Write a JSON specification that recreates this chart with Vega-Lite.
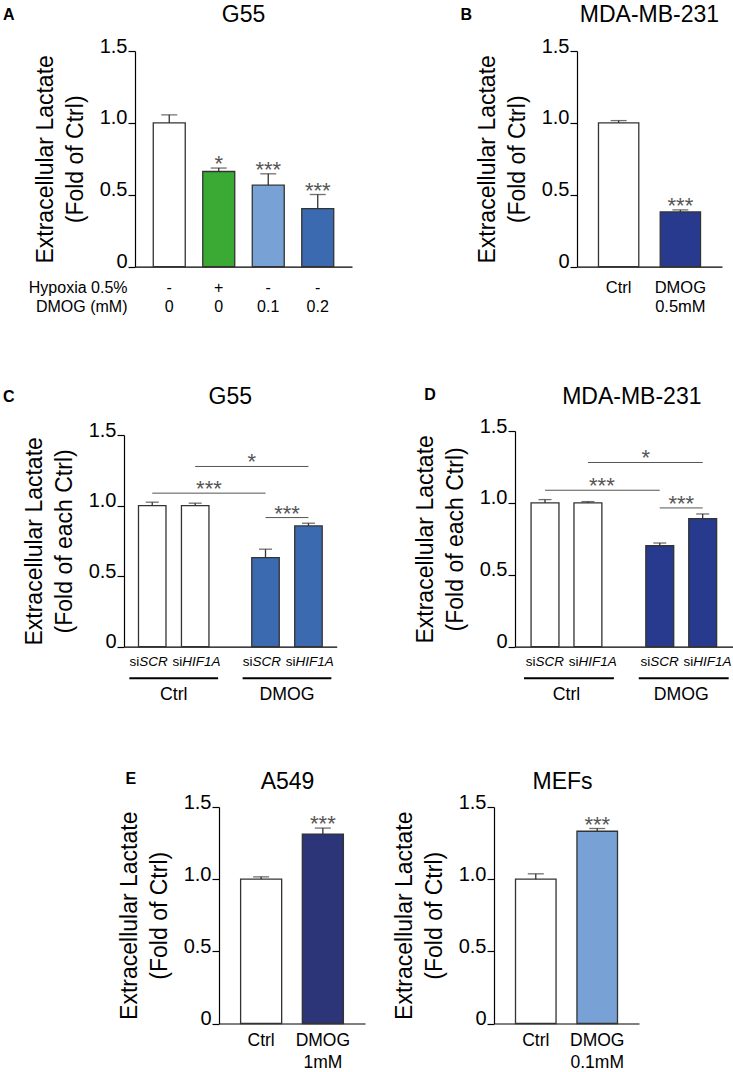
{
 "$schema": "https://vega.github.io/schema/vega-lite/v6.json",
 "padding": 0,
 "spacing": 0,
 "resolve": {"scale": {"x": "independent", "y": "independent", "color": "independent", "xOffset": "independent"}},
 "config": {
  "view": {"stroke": null},
  "font": "Liberation Sans",
  "concat": {"spacing": 0},
  "axis": {"grid": false, "domainColor": "#000000", "domainWidth": 1.2, "tickColor": "#000000", "tickWidth": 1.2, "labelColor": "#000000", "titleColor": "#000000", "titleFontWeight": "normal", "labelFont": "Liberation Sans", "titleFont": "Liberation Sans"},
  "axisY": {"tickSize": 7, "labelPadding": 1, "labelFontSize": 20, "labelOffset": -5, "titleFontSize": 23, "titleLineHeight": 29.5, "titlePadding": 12},
  "axisX": {"ticks": false, "tickSize": 0, "labelAngle": 0, "labelFontSize": 16, "labelLineHeight": 19, "labelPadding": 12.7},
  "title": {"fontSize": 23, "fontWeight": "normal", "color": "#000000", "font": "Liberation Sans"}
 },
 "vconcat": [
  {"width": 1, "height": 4, "data": {"values": []}, "mark": "point"},
  {
   "spacing": 0, "bounds": "flush",
   "resolve": {"scale": {"x": "independent", "y": "independent", "color": "independent", "xOffset": "independent"}},
   "hconcat": [
    {"width": 135, "height": 215.7, "data": {"values": []}, "mark": "point",
     "title": {"text": "A", "anchor": "start", "frame": "group", "fontSize": 16, "fontWeight": "bold", "offset": 27.6, "dx": 3}},
    {
     "width": 217, "height": 215.7,
     "title": {"text": "G55", "offset": 9},
     "data": {"values": [
      {"group": "-|0", "mean": 1.0, "upper": 1.056, "sig": ""},
      {"group": "+|0", "mean": 0.662, "upper": 0.686, "sig": "*"},
      {"group": "-|0.1", "mean": 0.567, "upper": 0.646, "sig": "***"},
      {"group": "-|0.2", "mean": 0.404, "upper": 0.502, "sig": "***"}
     ]},
     "encoding": {
      "x": {"field": "group", "type": "nominal", "sort": null, "scale": {"paddingInner": 0.354, "paddingOuter": 0.369},
            "axis": {"labelExpr": "split(datum.label, '|')", "title": ["Hypoxia 0.5%", "DMOG (mM)"], "titleFontSize": 16, "titleAlign": "right", "titleX": -8, "titleY": 25.3, "titleBaseline": "alphabetic", "titleLineHeight": 19}},
      "y": {"field": "mean", "type": "quantitative", "scale": {"domain": [0, 1.5], "nice": false},
            "axis": {"title": ["Extracellular Lactate", "(Fold of Ctrl)"], "values": [0, 0.5, 1, 1.5], "labelExpr": "datum.value === 0 ? '0' : format(datum.value, '.1f')"}}
     },
     "layer": [
      {"mark": {"type": "bar", "stroke": "#333333", "strokeWidth": 1.3},
       "encoding": {"color": {"field": "group", "type": "nominal", "scale": {"domain": ["-|0", "+|0", "-|0.1", "-|0.2"], "range": ["#ffffff", "#3aaa35", "#78a2d6", "#3b6ab1"]}, "legend": null}}},
      {"mark": {"type": "rule", "color": "#333333", "strokeWidth": 1.3}, "encoding": {"y2": {"field": "upper"}}},
      {"mark": {"type": "tick", "color": "#333333", "thickness": 1.3, "size": 16}, "encoding": {"y": {"field": "upper", "type": "quantitative"}}},
      {"mark": {"type": "text", "fontSize": 22, "color": "#555555", "baseline": "alphabetic", "dy": 3},
       "encoding": {"y": {"field": "upper", "type": "quantitative"}, "text": {"field": "sig"}}}
     ]
    },
    {"width": 224.7, "height": 215.7, "data": {"values": []}, "mark": "point",
     "title": {"text": "B", "anchor": "start", "frame": "group", "fontSize": 16, "fontWeight": "bold", "offset": 27.6, "dx": 108.5}},
    {
     "width": 145, "height": 215.7,
     "title": {"text": "MDA-MB-231", "offset": 9},
     "data": {"values": [
      {"group": "Ctrl", "mean": 1.0, "upper": 1.016, "sig": ""},
      {"group": "DMOG|0.5mM", "mean": 0.381, "upper": 0.395, "sig": "***"}
     ]},
     "encoding": {
      "x": {"field": "group", "type": "nominal", "sort": null, "scale": {"paddingInner": 0.347, "paddingOuter": 0.348},
            "axis": {"labelExpr": "split(datum.label, '|')", "title": null, "labelFontSize": 16.5}},
      "y": {"field": "mean", "type": "quantitative", "scale": {"domain": [0, 1.5], "nice": false},
            "axis": {"title": ["Extracellular Lactate", "(Fold of Ctrl)"], "values": [0, 0.5, 1, 1.5], "labelExpr": "datum.value === 0 ? '0' : format(datum.value, '.1f')"}}
     },
     "layer": [
      {"mark": {"type": "bar", "stroke": "#333333", "strokeWidth": 1.3},
       "encoding": {"color": {"field": "group", "type": "nominal", "scale": {"domain": ["Ctrl", "DMOG|0.5mM"], "range": ["#ffffff", "#283a8e"]}, "legend": null}}},
      {"mark": {"type": "rule", "color": "#333333", "strokeWidth": 1.3}, "encoding": {"y2": {"field": "upper"}}},
      {"mark": {"type": "tick", "color": "#333333", "thickness": 1.3, "size": 16}, "encoding": {"y": {"field": "upper", "type": "quantitative"}}},
      {"mark": {"type": "text", "fontSize": 22, "color": "#555555", "baseline": "alphabetic", "dy": 3},
       "encoding": {"y": {"field": "upper", "type": "quantitative"}, "text": {"field": "sig"}}}
     ]
    }
   ]
  },
  {"width": 1, "height": 70.9, "data": {"values": []}, "mark": "point"},
  {
   "spacing": 0, "bounds": "flush",
   "resolve": {"scale": {"x": "independent", "y": "independent", "color": "independent", "xOffset": "independent"}},
   "hconcat": [
    {"width": 124, "height": 215.7, "data": {"values": []}, "mark": "point",
     "title": {"text": "C", "anchor": "start", "frame": "group", "fontSize": 16, "fontWeight": "bold", "offset": 25.9, "dx": 3}},
    {
     "width": 212.7, "height": 215.7,
     "title": {"text": "G55", "offset": 11},
     "layer": [
      {
       "data": {"values": [
        {"treatment": "Ctrl", "sirna": "siSCR", "gene": "SCR", "mean": 1.0, "upper": 1.024},
        {"treatment": "Ctrl", "sirna": "siHIF1A", "gene": "HIF1A", "mean": 1.0, "upper": 1.017},
        {"treatment": "DMOG", "sirna": "siSCR", "gene": "SCR", "mean": 0.631, "upper": 0.691},
        {"treatment": "DMOG", "sirna": "siHIF1A", "gene": "HIF1A", "mean": 0.856, "upper": 0.875}
       ]},
       "encoding": {
        "x": {"field": "treatment", "type": "nominal", "scale": {"domain": ["Ctrl", "DMOG"], "paddingInner": 0.378, "paddingOuter": 0.128},
              "axis": {"title": null, "labelFontSize": 17.7, "labelPadding": 38.6}},
        "y": {"field": "mean", "type": "quantitative", "scale": {"domain": [0, 1.5], "nice": false, "range": [215.7, 4]},
              "axis": {"title": ["Extracellular Lactate", "(Fold of each Ctrl)"], "values": [0, 0.5, 1, 1.5], "labelExpr": "datum.value === 0 ? '0' : format(datum.value, '.1f')"}}
       },
       "layer": [
        {"mark": {"type": "bar", "stroke": "#333333", "strokeWidth": 1.3},
         "encoding": {"xOffset": {"field": "sirna", "type": "nominal", "sort": ["siSCR", "siHIF1A"], "scale": {"paddingInner": 0.36, "paddingOuter": 0}},
                      "color": {"field": "treatment", "type": "nominal", "scale": {"domain": ["Ctrl", "DMOG"], "range": ["#ffffff", "#3b6ab1"]}, "legend": null}}},
        {"mark": {"type": "rule", "color": "#333333", "strokeWidth": 1.3},
         "encoding": {"xOffset": {"field": "sirna", "type": "nominal", "sort": ["siSCR", "siHIF1A"], "scale": {"paddingInner": 0.36, "paddingOuter": 0}}, "y2": {"field": "upper"}}},
        {"mark": {"type": "tick", "color": "#333333", "thickness": 1.3, "size": 13},
         "encoding": {"xOffset": {"field": "sirna", "type": "nominal", "sort": ["siSCR", "siHIF1A"], "scale": {"paddingInner": 0.36, "paddingOuter": 0}}, "y": {"field": "upper", "type": "quantitative"}}},
        {"mark": {"type": "text", "align": "right", "baseline": "middle", "dx": -13, "dy": 15, "fontSize": 13.5, "color": "#000000"},
         "encoding": {"xOffset": {"field": "sirna", "type": "nominal", "sort": ["siSCR", "siHIF1A"], "scale": {"paddingInner": 0.36, "paddingOuter": 0}}, "y": {"datum": 0}, "text": {"value": "si"}}},
        {"mark": {"type": "text", "align": "left", "baseline": "middle", "dx": -13, "dy": 15, "fontSize": 13.5, "fontStyle": "italic", "color": "#000000"},
         "encoding": {"xOffset": {"field": "sirna", "type": "nominal", "sort": ["siSCR", "siHIF1A"], "scale": {"paddingInner": 0.36, "paddingOuter": 0}}, "y": {"datum": 0}, "text": {"field": "gene"}}},
        {"transform": [{"filter": "datum.sirna === 'siSCR'"}],
         "mark": {"type": "rule", "color": "#000000", "strokeWidth": 2},
         "encoding": {"x": {"field": "treatment", "type": "nominal", "bandPosition": -0.13}, "x2": {"field": "treatment", "bandPosition": 1.13}, "y": {"datum": -0.224}}}
       ]
      },
      {
       "data": {"values": [
        {"from": "Ctrl", "to": "DMOG", "pair": "siSCR", "level": 1.088, "sig": "***"},
        {"from": "Ctrl", "to": "DMOG", "pair": "siHIF1A", "level": 1.277, "sig": "*"},
        {"from": "DMOG", "to": "DMOG", "pair": "siSCR vs siHIF1A", "level": 0.915, "sig": "***"}
       ]},
       "encoding": {"y": {"field": "level", "type": "quantitative"}},
       "layer": [
        {"transform": [{"filter": "datum.pair === 'siSCR'"}],
         "layer": [
          {"mark": {"type": "rule", "color": "#555555", "strokeWidth": 1},
           "encoding": {"x": {"field": "from", "type": "nominal", "bandPosition": 0.196}, "x2": {"field": "to", "bandPosition": 0.196}}},
          {"mark": {"type": "text", "fontSize": 22, "color": "#555555", "baseline": "alphabetic", "dy": 3},
           "encoding": {"x": {"field": "from", "type": "nominal", "bandPosition": 1}, "text": {"field": "sig"}}}
         ]},
        {"transform": [{"filter": "datum.pair === 'siHIF1A'"}],
         "layer": [
          {"mark": {"type": "rule", "color": "#555555", "strokeWidth": 1},
           "encoding": {"x": {"field": "from", "type": "nominal", "bandPosition": 0.804}, "x2": {"field": "to", "bandPosition": 0.804}}},
          {"mark": {"type": "text", "fontSize": 22, "color": "#555555", "baseline": "alphabetic", "dy": 3},
           "encoding": {"x": {"field": "to", "type": "nominal", "bandPosition": 0}, "text": {"field": "sig"}}}
         ]},
        {"transform": [{"filter": "datum.pair === 'siSCR vs siHIF1A'"}],
         "layer": [
          {"mark": {"type": "rule", "color": "#555555", "strokeWidth": 1},
           "encoding": {"x": {"field": "from", "type": "nominal", "bandPosition": 0.196}, "x2": {"field": "to", "bandPosition": 0.804}}},
          {"mark": {"type": "text", "fontSize": 22, "color": "#555555", "baseline": "alphabetic", "dy": 3},
           "encoding": {"x": {"field": "from", "type": "nominal", "bandPosition": 0.5}, "text": {"field": "sig"}}}
         ]}
       ]
      }
     ]
    },
    {"width": 177.3, "height": 215.7, "data": {"values": []}, "mark": "point",
     "title": {"text": "D", "anchor": "start", "frame": "group", "fontSize": 16, "fontWeight": "bold", "offset": 27.6, "dx": 87.3}},
    {
     "width": 217.7, "height": 215.7,
     "title": {"text": "MDA-MB-231", "offset": 7, "dx": 8},
     "layer": [
      {
       "data": {"values": [
        {"treatment": "Ctrl", "sirna": "siSCR", "gene": "SCR", "mean": 1.0, "upper": 1.023},
        {"treatment": "Ctrl", "sirna": "siHIF1A", "gene": "HIF1A", "mean": 1.0, "upper": 1.009},
        {"treatment": "DMOG", "sirna": "siSCR", "gene": "SCR", "mean": 0.702, "upper": 0.721},
        {"treatment": "DMOG", "sirna": "siHIF1A", "gene": "HIF1A", "mean": 0.89, "upper": 0.923}
       ]},
       "encoding": {
        "x": {"field": "treatment", "type": "nominal", "scale": {"domain": ["Ctrl", "DMOG"], "paddingInner": 0.383, "paddingOuter": 0.14},
              "axis": {"title": null, "labelFontSize": 17.7, "labelPadding": 38.6}},
        "y": {"field": "mean", "type": "quantitative", "scale": {"domain": [0, 1.5], "nice": false},
              "axis": {"title": ["Extracellular Lactate", "(Fold of each Ctrl)"], "values": [0, 0.5, 1, 1.5], "labelExpr": "datum.value === 0 ? '0' : format(datum.value, '.1f')"}}
       },
       "layer": [
        {"mark": {"type": "bar", "stroke": "#333333", "strokeWidth": 1.3},
         "encoding": {"xOffset": {"field": "sirna", "type": "nominal", "sort": ["siSCR", "siHIF1A"], "scale": {"paddingInner": 0.35, "paddingOuter": 0}},
                      "color": {"field": "treatment", "type": "nominal", "scale": {"domain": ["Ctrl", "DMOG"], "range": ["#ffffff", "#283a8e"]}, "legend": null}}},
        {"mark": {"type": "rule", "color": "#333333", "strokeWidth": 1.3},
         "encoding": {"xOffset": {"field": "sirna", "type": "nominal", "sort": ["siSCR", "siHIF1A"], "scale": {"paddingInner": 0.35, "paddingOuter": 0}}, "y2": {"field": "upper"}}},
        {"mark": {"type": "tick", "color": "#333333", "thickness": 1.3, "size": 13},
         "encoding": {"xOffset": {"field": "sirna", "type": "nominal", "sort": ["siSCR", "siHIF1A"], "scale": {"paddingInner": 0.35, "paddingOuter": 0}}, "y": {"field": "upper", "type": "quantitative"}}},
        {"mark": {"type": "text", "align": "right", "baseline": "middle", "dx": -9.5, "dy": 15, "fontSize": 13.5, "color": "#000000"},
         "encoding": {"xOffset": {"field": "sirna", "type": "nominal", "sort": ["siSCR", "siHIF1A"], "scale": {"paddingInner": 0.35, "paddingOuter": 0}}, "y": {"datum": 0}, "text": {"value": "si"}}},
        {"mark": {"type": "text", "align": "left", "baseline": "middle", "dx": -9.5, "dy": 15, "fontSize": 13.5, "fontStyle": "italic", "color": "#000000"},
         "encoding": {"xOffset": {"field": "sirna", "type": "nominal", "sort": ["siSCR", "siHIF1A"], "scale": {"paddingInner": 0.35, "paddingOuter": 0}}, "y": {"datum": 0}, "text": {"field": "gene"}}},
        {"transform": [{"filter": "datum.sirna === 'siSCR'"}],
         "mark": {"type": "rule", "color": "#000000", "strokeWidth": 2},
         "encoding": {"x": {"field": "treatment", "type": "nominal", "bandPosition": -0.1}, "x2": {"field": "treatment", "bandPosition": 1.17}, "y": {"datum": -0.22}}}
       ]
      },
      {
       "data": {"values": [
        {"from": "Ctrl", "to": "DMOG", "pair": "siSCR", "level": 1.088, "sig": "***"},
        {"from": "Ctrl", "to": "DMOG", "pair": "siHIF1A", "level": 1.281, "sig": "*"},
        {"from": "DMOG", "to": "DMOG", "pair": "siSCR vs siHIF1A", "level": 0.965, "sig": "***"}
       ]},
       "encoding": {"y": {"field": "level", "type": "quantitative"}},
       "layer": [
        {"transform": [{"filter": "datum.pair === 'siSCR'"}],
         "layer": [
          {"mark": {"type": "rule", "color": "#555555", "strokeWidth": 1},
           "encoding": {"x": {"field": "from", "type": "nominal", "bandPosition": 0.197}, "x2": {"field": "to", "bandPosition": 0.197}}},
          {"mark": {"type": "text", "fontSize": 22, "color": "#555555", "baseline": "alphabetic", "dy": 3},
           "encoding": {"x": {"field": "from", "type": "nominal", "bandPosition": 1}, "text": {"field": "sig"}}}
         ]},
        {"transform": [{"filter": "datum.pair === 'siHIF1A'"}],
         "layer": [
          {"mark": {"type": "rule", "color": "#555555", "strokeWidth": 1},
           "encoding": {"x": {"field": "from", "type": "nominal", "bandPosition": 0.803}, "x2": {"field": "to", "bandPosition": 0.803}}},
          {"mark": {"type": "text", "fontSize": 22, "color": "#555555", "baseline": "alphabetic", "dy": 3},
           "encoding": {"x": {"field": "to", "type": "nominal", "bandPosition": 0}, "text": {"field": "sig"}}}
         ]},
        {"transform": [{"filter": "datum.pair === 'siSCR vs siHIF1A'"}],
         "layer": [
          {"mark": {"type": "rule", "color": "#555555", "strokeWidth": 1},
           "encoding": {"x": {"field": "from", "type": "nominal", "bandPosition": 0.197}, "x2": {"field": "to", "bandPosition": 0.803}}},
          {"mark": {"type": "text", "fontSize": 22, "color": "#555555", "baseline": "alphabetic", "dy": 3},
           "encoding": {"x": {"field": "from", "type": "nominal", "bandPosition": 0.5}, "text": {"field": "sig"}}}
         ]}
       ]
      }
     ]
    }
   ]
  },
  {"width": 1, "height": 67, "data": {"values": []}, "mark": "point"},
  {
   "spacing": 0, "bounds": "flush",
   "resolve": {"scale": {"x": "independent", "y": "independent", "color": "independent", "xOffset": "independent"}},
   "hconcat": [
    {"width": 219, "height": 216.5, "data": {"values": []}, "mark": "point",
     "title": {"text": "E", "anchor": "start", "frame": "group", "fontSize": 16, "fontWeight": "bold", "offset": 19.9, "dx": 125.5}},
    {
     "width": 146, "height": 216.5,
     "title": {"text": "A549", "offset": -1.5, "dx": -4.5},
     "data": {"values": [
      {"group": "Ctrl", "mean": 1.0, "upper": 1.016, "sig": ""},
      {"group": "DMOG|1mM", "mean": 1.3125, "upper": 1.354, "sig": "***"}
     ]},
     "encoding": {
      "x": {"field": "group", "type": "nominal", "sort": null, "scale": {"paddingInner": 0.335, "paddingOuter": 0.35},
            "axis": {"labelExpr": "split(datum.label, '|')", "title": null, "labelFontSize": 17.5, "labelLineHeight": 22, "labelPadding": 8.2}},
      "y": {"field": "mean", "type": "quantitative", "scale": {"domain": [0, 1.5], "nice": false},
            "axis": {"title": ["Extracellular Lactate", "(Fold of Ctrl)"], "values": [0, 0.5, 1, 1.5], "labelExpr": "datum.value === 0 ? '0' : format(datum.value, '.1f')"}}
     },
     "layer": [
      {"mark": {"type": "bar", "stroke": "#333333", "strokeWidth": 1.3},
       "encoding": {"color": {"field": "group", "type": "nominal", "scale": {"domain": ["Ctrl", "DMOG|1mM"], "range": ["#ffffff", "#2b3577"]}, "legend": null}}},
      {"mark": {"type": "rule", "color": "#333333", "strokeWidth": 1.3}, "encoding": {"y2": {"field": "upper"}}},
      {"mark": {"type": "tick", "color": "#333333", "thickness": 1.3, "size": 16}, "encoding": {"y": {"field": "upper", "type": "quantitative"}}},
      {"mark": {"type": "text", "fontSize": 22, "color": "#555555", "baseline": "alphabetic", "dy": 3},
       "encoding": {"y": {"field": "upper", "type": "quantitative"}, "text": {"field": "sig"}}}
     ]
    },
    {"width": 128.3, "height": 216.5, "data": {"values": []}, "mark": "point"},
    {
     "width": 145, "height": 216.5,
     "title": {"text": "MEFs", "offset": -1.5, "dx": -4},
     "data": {"values": [
      {"group": "Ctrl", "mean": 1.0, "upper": 1.037, "sig": ""},
      {"group": "DMOG|0.1mM", "mean": 1.332, "upper": 1.351, "sig": "***"}
     ]},
     "encoding": {
      "x": {"field": "group", "type": "nominal", "sort": null, "scale": {"paddingInner": 0.34, "paddingOuter": 0.35},
            "axis": {"labelExpr": "split(datum.label, '|')", "title": null, "labelFontSize": 17.5, "labelLineHeight": 22, "labelPadding": 8.2}},
      "y": {"field": "mean", "type": "quantitative", "scale": {"domain": [0, 1.5], "nice": false},
            "axis": {"title": ["Extracellular Lactate", "(Fold of Ctrl)"], "values": [0, 0.5, 1, 1.5], "labelExpr": "datum.value === 0 ? '0' : format(datum.value, '.1f')"}}
     },
     "layer": [
      {"mark": {"type": "bar", "stroke": "#333333", "strokeWidth": 1.3},
       "encoding": {"color": {"field": "group", "type": "nominal", "scale": {"domain": ["Ctrl", "DMOG|0.1mM"], "range": ["#ffffff", "#78a2d6"]}, "legend": null}}},
      {"mark": {"type": "rule", "color": "#333333", "strokeWidth": 1.3}, "encoding": {"y2": {"field": "upper"}}},
      {"mark": {"type": "tick", "color": "#333333", "thickness": 1.3, "size": 16}, "encoding": {"y": {"field": "upper", "type": "quantitative"}}},
      {"mark": {"type": "text", "fontSize": 22, "color": "#555555", "baseline": "alphabetic", "dy": 3},
       "encoding": {"y": {"field": "upper", "type": "quantitative"}, "text": {"field": "sig"}}}
     ]
    }
   ]
  }
 ]
}
